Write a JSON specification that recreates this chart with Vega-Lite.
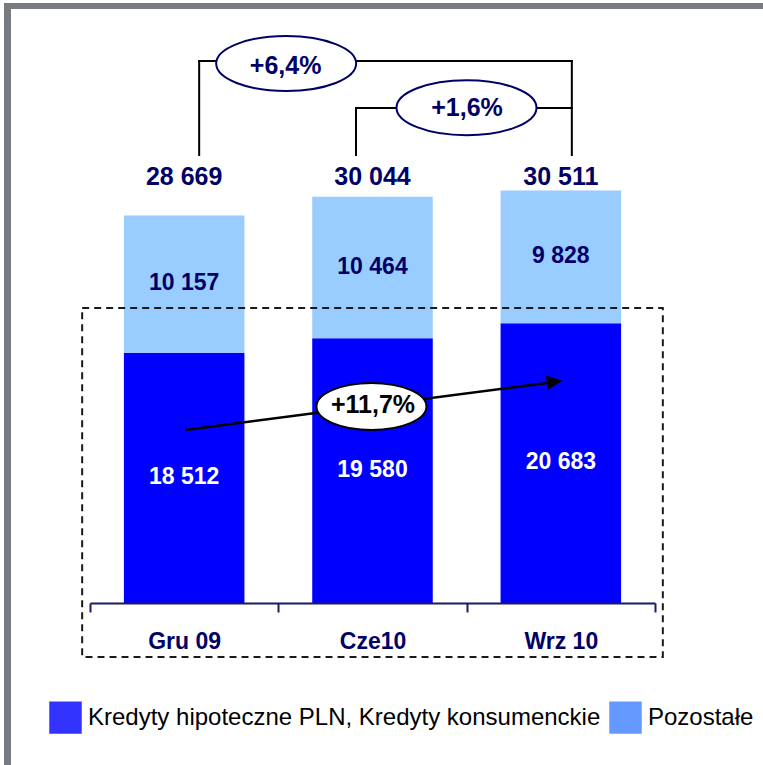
{
  "$schema": "https://vega.github.io/schema/vega-lite/v6.json",
  "autosize": {"type": "none"},
  "width": 565,
  "height": 590,
  "padding": {"left": 90, "top": 13, "right": 108, "bottom": 162},
  "background": "white",
  "config": {
    "view": {"stroke": null},
    "font": "Liberation Sans",
    "locale": {"number": {"decimal": ",", "thousands": " ", "grouping": [3], "currency": ["", " zł"]}}
  },
  "datasets": {
    "loans": [
      {"month": "Gru 09", "series": "Kredyty hipoteczne PLN, Kredyty konsumenckie", "value": 18512},
      {"month": "Gru 09", "series": "Pozostałe", "value": 10157},
      {"month": "Cze10", "series": "Kredyty hipoteczne PLN, Kredyty konsumenckie", "value": 19580},
      {"month": "Cze10", "series": "Pozostałe", "value": 10464},
      {"month": "Wrz 10", "series": "Kredyty hipoteczne PLN, Kredyty konsumenckie", "value": 20683},
      {"month": "Wrz 10", "series": "Pozostałe", "value": 9828}
    ],
    "changes": [
      {"label": "+6,4%", "from": "Gru 09", "to": "Wrz 10"},
      {"label": "+1,6%", "from": "Cze10", "to": "Wrz 10"},
      {"label": "+11,7%", "from": "Gru 09", "to": "Wrz 10"}
    ]
  },
  "layer": [
    {
      "data": {"name": "loans"},
      "mark": {"type": "bar", "width": {"band": 0.64}},
      "encoding": {
        "x": {
          "field": "month", "type": "nominal",
          "scale": {"domain": ["Gru 09", "Cze10", "Wrz 10"], "paddingInner": 0, "paddingOuter": 0},
          "axis": {
            "orient": "bottom", "title": null, "labelAngle": 0, "labelFont": "Liberation Sans", "labelFontSize": 23,
            "labelFontWeight": "bold", "labelColor": "#000066", "labelPadding": 18,
            "domainColor": "#1a1a66", "domainWidth": 2, "tickColor": "#1a1a66", "tickWidth": 2,
            "tickSize": 9, "tickBand": "extent", "grid": false, "zindex": 1
          }
        },
        "y": {
          "field": "value", "type": "quantitative", "stack": "zero",
          "scale": {"domain": [0, 43640], "nice": false, "zero": false},
          "axis": null
        },
        "detail": {"field": "series"},
        "order": {"field": "series", "sort": "ascending"},
        "color": {"condition": {"test": "datum.series === 'Pozostałe'", "value": "#99ccff"}, "value": "#0000ff"}
      }
    },
    {
      "data": {"name": "loans"},
      "mark": {"type": "point", "shape": "square", "filled": true, "opacity": 0},
      "encoding": {
        "x": {"field": "month", "type": "nominal"},
        "y": {"field": "value", "type": "quantitative", "axis": null},
        "fill": {
          "field": "series", "type": "nominal",
          "scale": {"domain": ["Kredyty hipoteczne PLN, Kredyty konsumenckie", "Pozostałe"], "range": ["#3333ff", "#6699ff"]},
          "legend": {
            "orient": "none", "legendX": -41, "legendY": 688, "direction": "horizontal", "title": null,
            "symbolType": "square", "symbolSize": 1056, "symbolStrokeWidth": 0, "symbolOpacity": 1,
            "labelFont": "Liberation Sans", "labelFontSize": 24, "labelColor": "#000000",
            "labelLimit": 1000, "labelOffset": 6, "columnPadding": 8, "padding": 0
          }
        }
      }
    },
    {
      "data": {"name": "loans"},
      "mark": {"type": "text", "fontSize": 23, "fontWeight": "bold", "baseline": "middle", "dy": -1},
      "encoding": {
        "x": {"field": "month", "type": "nominal"},
        "y": {"field": "value", "type": "quantitative", "stack": "zero", "bandPosition": 0.5, "axis": null},
        "detail": {"field": "series"},
        "order": {"field": "series", "sort": "ascending"},
        "text": {"field": "value", "type": "quantitative", "format": ",d"},
        "color": {"condition": {"test": "datum.series === 'Pozostałe'", "value": "#000066"}, "value": "#ffffff"}
      }
    },
    {
      "data": {"name": "loans"},
      "transform": [{"aggregate": [{"op": "sum", "field": "value", "as": "total"}], "groupby": ["month"]}],
      "mark": {"type": "text", "fontSize": 25, "fontWeight": "bold", "color": "#000066", "baseline": "alphabetic"},
      "encoding": {
        "x": {"field": "month", "type": "nominal"},
        "y": {"datum": 30954, "type": "quantitative", "axis": null},
        "text": {"field": "total", "type": "quantitative", "format": ",d"}
      }
    },
    {
      "data": {"name": "changes"},
      "transform": [{"filter": "datum.label === '+11,7%'"}],
      "mark": {"type": "rect", "fill": "#ffffff", "fillOpacity": 0, "stroke": "#1a1a1a", "strokeWidth": 2, "strokeDash": [7, 5], "xOffset": -102, "x2Offset": 102},
      "encoding": {
        "x": {"field": "from", "type": "nominal"},
        "x2": {"field": "to"},
        "y": {"datum": 21820, "type": "quantitative", "axis": null},
        "y2": {"datum": -3994}
      }
    },
    {
      "data": {"name": "changes"},
      "transform": [{"filter": "datum.label === '+6,4%'"}],
      "layer": [
        {
          "mark": {"type": "rule", "color": "#000000", "strokeWidth": 2, "strokeCap": "square", "xOffset": 15, "x2Offset": 11},
          "encoding": {
            "x": {"field": "from", "type": "nominal"},
            "x2": {"field": "to"},
            "y": {"datum": 40089, "type": "quantitative", "axis": null}
          }
        },
        {
          "mark": {"type": "rule", "color": "#000000", "strokeWidth": 2, "strokeCap": "square", "xOffset": 15},
          "encoding": {
            "x": {"field": "from", "type": "nominal"},
            "y": {"datum": 40089, "type": "quantitative", "axis": null},
            "y2": {"datum": 33136}
          }
        },
        {
          "mark": {"type": "rule", "color": "#000000", "strokeWidth": 2, "strokeCap": "square", "xOffset": 11},
          "encoding": {
            "x": {"field": "to", "type": "nominal"},
            "y": {"datum": 40089, "type": "quantitative", "axis": null},
            "y2": {"datum": 33136}
          }
        },
        {
          "mark": {"type": "point", "filled": true, "opacity": 1, "fill": "#ffffff", "stroke": "#000066", "strokeWidth": 2, "size": 19600, "xOffset": 102,
            "shape": "M -1 0 C -1 -0.217 -0.552 -0.393 0 -0.393 C 0.552 -0.393 1 -0.217 1 0 C 1 0.217 0.552 0.393 0 0.393 C -0.552 0.393 -1 0.217 -1 0 Z"},
          "encoding": {
            "x": {"field": "from", "type": "nominal"},
            "y": {"datum": 39904, "type": "quantitative", "axis": null}
          }
        },
        {
          "mark": {"type": "text", "fontSize": 25, "fontWeight": "bold", "color": "#000066", "baseline": "alphabetic", "xOffset": 101.5},
          "encoding": {
            "x": {"field": "from", "type": "nominal"},
            "y": {"datum": 39127, "type": "quantitative", "axis": null},
            "text": {"field": "label"}
          }
        }
      ]
    },
    {
      "data": {"name": "changes"},
      "transform": [{"filter": "datum.label === '+1,6%'"}],
      "layer": [
        {
          "mark": {"type": "rule", "color": "#000000", "strokeWidth": 2, "strokeCap": "square", "xOffset": -16.5, "x2Offset": 11},
          "encoding": {
            "x": {"field": "from", "type": "nominal"},
            "x2": {"field": "to"},
            "y": {"datum": 36612, "type": "quantitative", "axis": null}
          }
        },
        {
          "mark": {"type": "rule", "color": "#000000", "strokeWidth": 2, "strokeCap": "square", "xOffset": -16.5},
          "encoding": {
            "x": {"field": "from", "type": "nominal"},
            "y": {"datum": 36612, "type": "quantitative", "axis": null},
            "y2": {"datum": 33136}
          }
        },
        {
          "mark": {"type": "point", "filled": true, "opacity": 1, "fill": "#ffffff", "stroke": "#000066", "strokeWidth": 2, "size": 19600, "xOffset": 94,
            "shape": "M -1 0 C -1 -0.217 -0.552 -0.393 0 -0.393 C 0.552 -0.393 1 -0.217 1 0 C 1 0.217 0.552 0.393 0 0.393 C -0.552 0.393 -1 0.217 -1 0 Z"},
          "encoding": {
            "x": {"field": "from", "type": "nominal"},
            "y": {"datum": 36634, "type": "quantitative", "axis": null}
          }
        },
        {
          "mark": {"type": "text", "fontSize": 25, "fontWeight": "bold", "color": "#000066", "baseline": "alphabetic", "xOffset": 94.5},
          "encoding": {
            "x": {"field": "from", "type": "nominal"},
            "y": {"datum": 36021, "type": "quantitative", "axis": null},
            "text": {"field": "label"}
          }
        }
      ]
    },
    {
      "data": {"name": "changes"},
      "transform": [{"filter": "datum.label === '+11,7%'"}],
      "layer": [
        {
          "mark": {"type": "rule", "color": "#000000", "strokeWidth": 2.5, "xOffset": 1, "x2Offset": -14},
          "encoding": {
            "x": {"field": "from", "type": "nominal"},
            "x2": {"field": "to"},
            "y": {"datum": 12796, "type": "quantitative", "axis": null},
            "y2": {"datum": 16272}
          }
        },
        {
          "mark": {"type": "point", "filled": true, "opacity": 1, "fill": "#000000", "strokeWidth": 0, "size": 256, "xOffset": -6, "angle": 352.8,
            "shape": "M 1 0 L -1 -0.9 L -1 0.9 Z"},
          "encoding": {
            "x": {"field": "to", "type": "nominal"},
            "y": {"datum": 16368, "type": "quantitative", "axis": null}
          }
        },
        {
          "mark": {"type": "point", "filled": true, "opacity": 1, "fill": "#ffffff", "stroke": "#000000", "strokeWidth": 2, "size": 12100, "xOffset": 187.3,
            "shape": "M -1 0 C -1 -0.236 -0.552 -0.427 0 -0.427 C 0.552 -0.427 1 -0.236 1 0 C 1 0.236 0.552 0.427 0 0.427 C -0.552 0.427 -1 0.236 -1 0 Z"},
          "encoding": {
            "x": {"field": "from", "type": "nominal"},
            "y": {"datum": 14534, "type": "quantitative", "axis": null}
          }
        },
        {
          "mark": {"type": "text", "fontSize": 25, "fontWeight": "bold", "color": "#000000", "baseline": "alphabetic", "xOffset": 188.8},
          "encoding": {
            "x": {"field": "from", "type": "nominal"},
            "y": {"datum": 14053, "type": "quantitative", "axis": null},
            "text": {"field": "label"}
          }
        }
      ]
    },
    {
      "data": {"values": [{}]},
      "layer": [
        {
          "mark": {"type": "rule", "color": "#787c80", "strokeWidth": 7, "xOffset": -176.65},
          "encoding": {
            "x": {"datum": "Gru 09", "type": "nominal"},
            "y": {"datum": 44379, "type": "quantitative", "axis": null},
            "y2": {"datum": -11982}
          }
        },
        {
          "mark": {"type": "rule", "color": "#787c80", "strokeWidth": 6, "xOffset": -180.15, "x2Offset": 202.2},
          "encoding": {
            "x": {"datum": "Gru 09", "type": "nominal"},
            "x2": {"datum": "Wrz 10"},
            "y": {"datum": 44157, "type": "quantitative", "axis": null}
          }
        }
      ]
    }
  ]
}
